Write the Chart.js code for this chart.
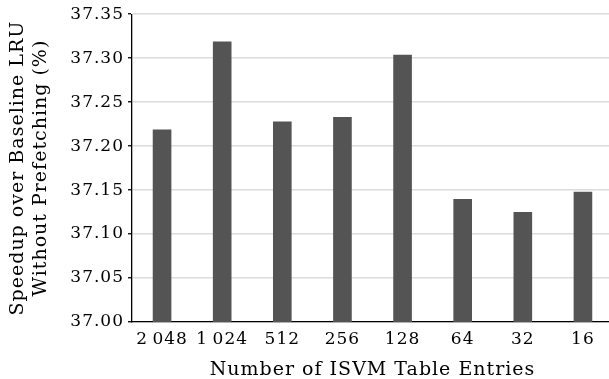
<!DOCTYPE html>
<html>
<head>
<meta charset="utf-8">
<script src="https://cdn.jsdelivr.net/npm/chart.js@4/dist/chart.umd.min.js"></script>
<style>
    html, body { margin: 0; padding: 0; background: #fff; overflow: hidden; }
    #wrap { width: 613px; height: 379px; }
</style>
</head>
<body>
<div id="wrap"><canvas id="speedupChart"></canvas></div>
<script>
// ISVM table sizes and measured speedup (%)
const tableEntries = ['2\u2009048', '1\u2009024', '512', '256', '128', '64', '32', '16'];
const speedup = [37.219, 37.319, 37.228, 37.233, 37.304, 37.140, 37.125, 37.148];
const yMin = 37.00;
const yMax = 37.35;
const yStep = 0.05;

const serif = 'DejaVu Serif';

// widen the lettering a little, closer to a TeX look
const letterSpacing = {
    id: 'letterSpacing',
    beforeLayout(chart) { chart.ctx.letterSpacing = '1px'; },
    beforeDraw(chart) { chart.ctx.letterSpacing = '1px'; }
};

const ctx = document.getElementById('speedupChart').getContext('2d');
const speedupChart = new Chart(ctx, {
    type: 'bar',
    data: {
        labels: tableEntries,
        datasets: [{
            data: speedup,
            backgroundColor: '#545454',
            barPercentage: 0.31,
            categoryPercentage: 1.0
        }]
    },
    options: {
        responsive: true,
        maintainAspectRatio: false,
        animation: false,
        layout: { padding: { top: 14, right: 0, left: 0, bottom: 0 } },
        plugins: {
            legend: { display: false },
            tooltip: { enabled: false }
        },
        scales: {
            x: {
                grid: { display: false, drawTicks: false },
                border: { display: true, color: '#000', width: 1.3 },
                ticks: {
                    color: '#000',
                    padding: 7,
                    font: { family: serif, size: 17 }
                },
                title: {
                    display: true,
                    text: 'Number of ISVM Table Entries',
                    color: '#000',
                    padding: { top: 0, bottom: -1 },
                    font: { family: serif, size: 19, lineHeight: 1.0 }
                },
                afterFit: scale => { scale.height = 57; }
            },
            y: {
                min: yMin,
                max: yMax,
                grid: {
                    color: '#dcdcdc',
                    lineWidth: 1.5,
                    tickColor: '#000',
                    tickLength: 4,
                    tickWidth: 1.3
                },
                border: { display: true, color: '#000', width: 1.3 },
                ticks: {
                    stepSize: yStep,
                    color: '#000',
                    padding: 4,
                    font: { family: serif, size: 17 },
                    callback: v => Number(v).toFixed(2)
                },
                title: {
                    display: true,
                    text: ['Speedup over Baseline LRU', 'Without Prefetching (%)'],
                    color: '#000',
                    padding: { top: 6.5, bottom: 0 },
                    font: { family: serif, size: 19, lineHeight: 1.2 }
                },
                afterFit: scale => { scale.width = 132; }
            }
        }
    },
    plugins: [letterSpacing]
});
</script>
</body>
</html>
